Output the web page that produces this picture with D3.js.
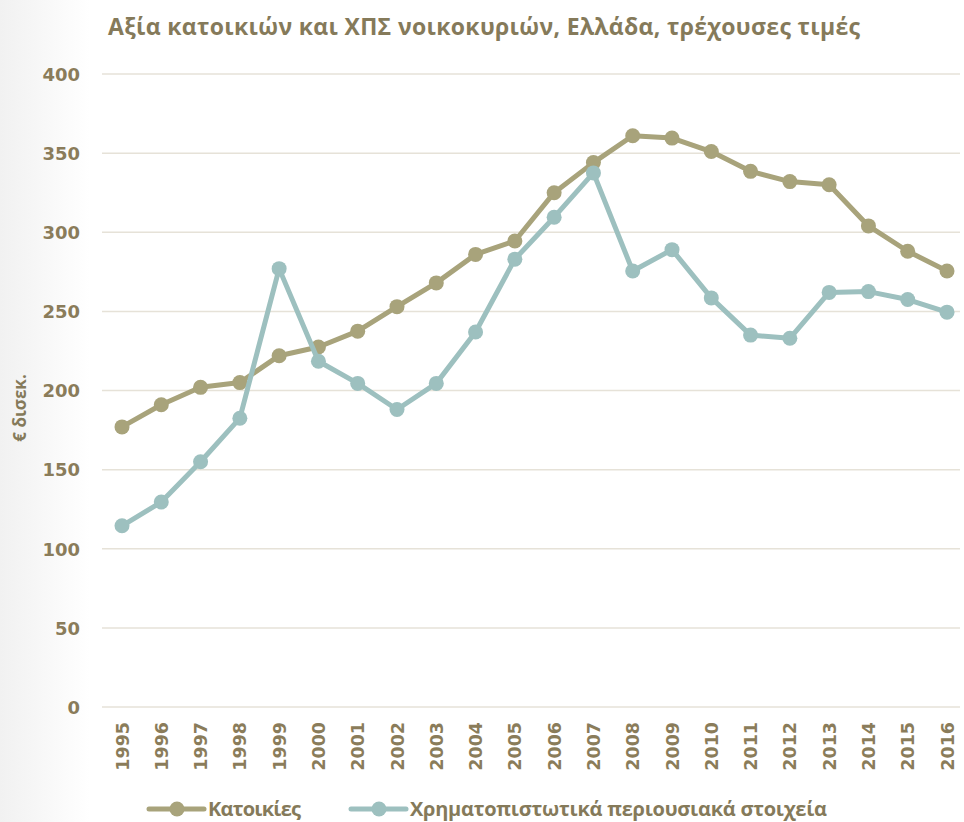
<!DOCTYPE html>
<html lang="el">
<head>
<meta charset="utf-8">
<title>Αξία κατοικιών και ΧΠΣ</title>
<script src="https://d3js.org/d3.v7.min.js"></script>
<style>
  body { margin: 0; background: #fff; }
  .tick text { font-family: "DejaVu Sans", Verdana, sans-serif; font-weight: bold; fill: #8A7C5A; }
  .title, .legend text, .ylabel { font-family: "Open Sans", sans-serif; font-weight: bold; fill: #857A5A; }
</style>
</head>
<body>
<div id="chart"></div>
<script>
var years = ["1995","1996","1997","1998","1999","2000","2001","2002","2003","2004","2005",
             "2006","2007","2008","2009","2010","2011","2012","2013","2014","2015","2016"];
var katoikies = [177, 191, 202, 205, 222, 227.5, 237.5, 253, 268, 286, 294.5,
                 325, 344, 361, 359.5, 351, 338.5, 332, 330, 304, 288, 275.5];
var xps = [114.5, 129.5, 155, 182.5, 277, 218.5, 204.5, 188, 204.5, 237, 283,
           309.5, 337.5, 275.5, 289, 258.5, 235, 233, 262, 262.5, 257.5, 249.5];
var yTicks = [0, 50, 100, 150, 200, 250, 300, 350, 400];
var seriesNames = ["Κατοικίες", "Χρηματοπιστωτικά περιουσιακά στοιχεία"];
var colors = ["#A8A37B", "#9DC0BF"];

var W = 964, H = 822;
var margin = {top: 74, right: 4, bottom: 115, left: 102};

var svg = d3.select("#chart").append("svg")
    .attr("width", W).attr("height", H);

// left background shade
var grad = svg.append("defs").append("linearGradient").attr("id", "bg");
grad.append("stop").attr("offset", "0%").attr("stop-color", "#F1F1F1");
grad.append("stop").attr("offset", "100%").attr("stop-color", "#FFFFFF");
svg.append("rect").attr("width", 90).attr("height", H).attr("fill", "url(#bg)");

var x = d3.scalePoint().domain(years)
    .range([122, 947]);
var y = d3.scaleLinear().domain([0, 400])
    .range([H - margin.bottom, margin.top]);

// gridlines
svg.append("g").selectAll("line").data(yTicks).enter().append("line")
    .attr("x1", margin.left).attr("x2", W - margin.right)
    .attr("y1", d => y(d)).attr("y2", d => y(d))
    .attr("stroke", "#E6E2D8").attr("stroke-width", 1.5);

var yAxis = svg.append("g")
    .attr("transform", "translate(" + (margin.left - 22) + ",0)")
    .call(d3.axisLeft(y).tickValues(yTicks).tickSize(0).tickPadding(0));
yAxis.select(".domain").remove();
yAxis.selectAll("text").style("font-size", "18px").attr("dy", "0.35em");

var xAxis = svg.append("g")
    .attr("transform", "translate(0," + (H - margin.bottom) + ")")
    .call(d3.axisBottom(x).tickSize(0));
xAxis.select(".domain").remove();
xAxis.selectAll("text")
    .style("font-size", "17.5px")
    .attr("transform", "rotate(-90)")
    .attr("text-anchor", "end")
    .attr("x", -15).attr("y", 0).attr("dy", "0.35em");

// title
svg.append("text").attr("class", "title")
    .attr("x", 484).attr("y", 35)
    .attr("text-anchor", "middle")
    .style("font-size", "23px")
    .attr("textLength", 752)
    .text("Αξία κατοικιών και ΧΠΣ νοικοκυριών, Ελλάδα, τρέχουσες τιμές");

// y label
svg.append("text").attr("class", "ylabel")
    .attr("transform", "translate(26,408) rotate(-90)")
    .attr("text-anchor", "middle")
    .style("font-size", "17px")
    .text("€ δισεκ.");

var line = d3.line().x((d, i) => x(years[i])).y(d => y(d));
[katoikies, xps].forEach(function(data, k) {
  svg.append("path").datum(data)
      .attr("d", line)
      .attr("fill", "none")
      .attr("stroke", colors[k])
      .attr("stroke-width", 5)
      .attr("stroke-linejoin", "round");
  svg.append("g").selectAll("circle").data(data).enter().append("circle")
      .attr("cx", (d, i) => x(years[i]))
      .attr("cy", d => y(d))
      .attr("r", 7.5)
      .attr("fill", colors[k]);
});

// legend
var legX = [149, 351];
var leg = svg.selectAll(".legend").data(seriesNames).enter().append("g")
    .attr("class", "legend")
    .attr("transform", (d, i) => "translate(" + legX[i] + ",809)");
leg.append("line").attr("x1", 0).attr("x2", 55)
    .attr("stroke", (d, i) => colors[i]).attr("stroke-width", 5).attr("stroke-linecap", "round");
leg.append("circle").attr("cx", 28).attr("r", 7.5).attr("fill", (d, i) => colors[i]);
leg.append("text").attr("x", 59).attr("dy", "0.35em")
    .style("font-size", "20px")
    .attr("textLength", (d, i) => i === 0 ? 93 : 417)
    .text(d => d);
</script>
</body>
</html>
